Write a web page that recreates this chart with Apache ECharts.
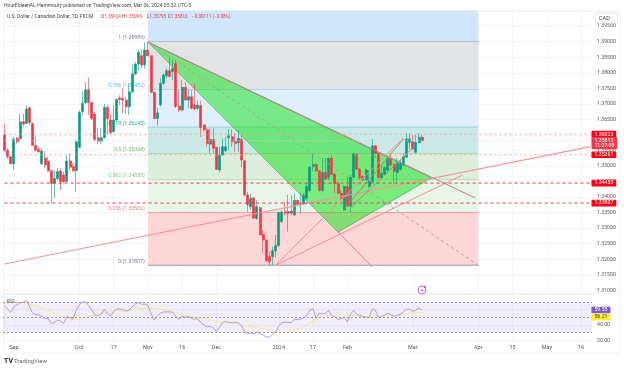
<!DOCTYPE html>
<html><head><meta charset="utf-8">
<script src="https://cdn.jsdelivr.net/npm/echarts@6/dist/echarts.min.js"></script>
<style>html,body{margin:0;padding:0;background:#fff}#c{width:624px;height:368px;filter:blur(.35px)}</style>
</head><body><div id="c"></div>
<script>
// Daily OHLC: [open, close, low, high]
const candles=[
[1.3600,1.3551,1.3546,1.3637],[1.3551,1.3530,1.3522,1.3557],[1.3530,1.3507,1.3507,1.3530],[1.3507,1.3586,1.3487,1.3594],[1.3589,1.3578,1.3572,1.3594],
[1.3588,1.3642,1.3585,1.3667],[1.3642,1.3635,1.3627,1.3669],[1.3637,1.3683,1.3635,1.3694],[1.3687,1.3640,1.3632,1.3691],[1.3637,1.3566,1.3564,1.3637],
[1.3566,1.3551,1.3546,1.3594],[1.3553,1.3546,1.3541,1.3562],[1.3507,1.3548,1.3503,1.3557],[1.3525,1.3503,1.3493,1.3546],[1.3516,1.3484,1.3482,1.3530],
[1.3485,1.3444,1.3380,1.3487],[1.3444,1.3460,1.3396,1.3487],[1.3459,1.3482,1.3455,1.3493],[1.3484,1.3450,1.3423,1.3493],[1.3471,1.3450,1.3444,1.3482],
[1.3450,1.3516,1.3450,1.3535],[1.3516,1.3496,1.3487,1.3541],[1.3498,1.3485,1.3482,1.3509],[1.3485,1.3578,1.3417,1.3583],[1.3560,1.3672,1.3557,1.3680],
[1.3675,1.3702,1.3664,1.3739],[1.3704,1.3745,1.3699,1.3771],[1.3745,1.3704,1.3664,1.3785],[1.3704,1.3653,1.3648,1.3704],[1.3667,1.3585,1.3578,1.3675],
[1.3591,1.3580,1.3570,1.3621],[1.3580,1.3591,1.3570,1.3621],[1.3591,1.3689,1.3589,1.3699],[1.3689,1.3652,1.3600,1.3696],[1.3648,1.3607,1.3600,1.3669],
[1.3611,1.3648,1.3605,1.3696],[1.3648,1.3714,1.3646,1.3718],[1.3719,1.3714,1.3696,1.3728],[1.3718,1.3712,1.3669,1.3750],[1.3712,1.3691,1.3667,1.3723],
[1.3691,1.3739,1.3664,1.3766],[1.3739,1.3796,1.3734,1.3825],[1.3796,1.3828,1.3793,1.3836],[1.3828,1.3866,1.3807,1.3873],[1.3855,1.3825,1.3814,1.3873],
[1.3825,1.3873,1.3814,1.3897],[1.3873,1.3855,1.3852,1.3899],[1.3855,1.3737,1.3734,1.3855],[1.3737,1.3653,1.3651,1.3737],[1.3653,1.3671,1.3629,1.3686],
[1.3697,1.3766,1.3691,1.3782],[1.3766,1.3793,1.3761,1.3798],[1.3790,1.3807,1.3782,1.3814],[1.3807,1.3788,1.3785,1.3852],[1.3804,1.3814,1.3777,1.3841],
[1.3830,1.3691,1.3686,1.3841],[1.3693,1.3680,1.3675,1.3745],[1.3680,1.3753,1.3675,1.3777],[1.3753,1.3712,1.3710,1.3771],[1.3712,1.3723,1.3686,1.3747],
[1.3723,1.3686,1.3682,1.3745],[1.3696,1.3683,1.3680,1.3766],[1.3686,1.3696,1.3680,1.3710],[1.3694,1.3624,1.3594,1.3710],[1.3632,1.3616,1.3611,1.3635],
[1.3616,1.3572,1.3562,1.3621],[1.3570,1.3585,1.3541,1.3621],[1.3585,1.3557,1.3541,1.3624],[1.3560,1.3489,1.3487,1.3562],[1.3487,1.3535,1.3479,1.3562],
[1.3535,1.3562,1.3535,1.3589],[1.3549,1.3562,1.3546,1.3594],[1.3591,1.3597,1.3551,1.3618],[1.3594,1.3578,1.3562,1.3618],[1.3578,1.3572,1.3546,1.3605],
[1.3575,1.3589,1.3546,1.3616],[1.3586,1.3519,1.3496,1.3600],[1.3517,1.3407,1.3403,1.3519],[1.3407,1.3375,1.3353,1.3417],[1.3369,1.3396,1.3359,1.3412],
[1.3398,1.3332,1.3330,1.3398],[1.3332,1.3369,1.3326,1.3391],[1.3366,1.3278,1.3276,1.3369],[1.3280,1.3262,1.3219,1.3294],[1.3262,1.3195,1.3192,1.3262],
[1.3208,1.3192,1.3181,1.3224],[1.3208,1.3227,1.3181,1.3240],[1.3227,1.3244,1.3205,1.3278],[1.3244,1.3350,1.3240,1.3353],[1.3321,1.3351,1.3316,1.3358],
[1.3353,1.3348,1.3342,1.3385],[1.3348,1.3353,1.3289,1.3407],[1.3355,1.3348,1.3342,1.3407],[1.3342,1.3390,1.3340,1.3412],[1.3390,1.3377,1.3375,1.3391],
[1.3375,1.3378,1.3345,1.3412],[1.3377,1.3405,1.3375,1.3412],[1.3396,1.3434,1.3391,1.3444],[1.3421,1.3496,1.3417,1.3498],[1.3498,1.3505,1.3482,1.3539],
[1.3505,1.3484,1.3482,1.3509],[1.3484,1.3421,1.3417,1.3487],[1.3421,1.3479,1.3417,1.3525],[1.3479,1.3458,1.3455,1.3525],[1.3462,1.3525,1.3455,1.3527],
[1.3525,1.3473,1.3471,1.3538],[1.3474,1.3444,1.3412,1.3476],[1.3444,1.3412,1.3407,1.3450],[1.3412,1.3396,1.3391,1.3423],[1.3358,1.3434,1.3355,1.3439],
[1.3434,1.3371,1.3368,1.3466],[1.3371,1.3464,1.3352,1.3471],[1.3464,1.3539,1.3460,1.3541],[1.3539,1.3490,1.3487,1.3541],[1.3490,1.3462,1.3455,1.3493],
[1.3466,1.3455,1.3450,1.3471],[1.3455,1.3487,1.3452,1.3493],[1.3434,1.3450,1.3428,1.3487],[1.3450,1.3565,1.3447,1.3587],[1.3565,1.3541,1.3525,1.3568],
[1.3541,1.3462,1.3460,1.3542],[1.3462,1.3476,1.3460,1.3503],[1.3474,1.3495,1.3471,1.3498],[1.3487,1.3525,1.3482,1.3530],[1.3522,1.3503,1.3498,1.3541],
[1.3505,1.3482,1.3444,1.3509],[1.3479,1.3509,1.3450,1.3525],[1.3489,1.3509,1.3485,1.3519],[1.3503,1.3530,1.3498,1.3541],[1.3528,1.3587,1.3525,1.3605],
[1.3576,1.3587,1.3555,1.3605],[1.3578,1.3555,1.3552,1.3600],[1.3544,1.3576,1.3541,1.3600],[1.3575,1.3592,1.3573,1.3605],[1.35924,1.35813,1.35795,1.35999]
];
const rsiValues=[65.2,60.9,56.5,63.9,66.1,69.2,69.6,72.2,63.9,55.2,53.9,53.1,50.9,48.7,48.7,41.8,43.5,46.5,45.2,42.2,50.9,49.6,47.9,59.2,66.5,69.6,70.5,65.2,59.6,53.1,51.8,53.9,60.5,55.2,51.8,57.4,60.9,60.9,60,58.3,59.6,63.9,67.4,69.6,67,67.4,65.2,55.2,46.5,52.2,55.2,57,57,57,56.5,50.9,47.4,51.3,50,50.9,48.7,47.4,48.3,43.1,40,37.4,38.3,36.5,31.3,37.4,43.5,44.4,43.5,43.1,43.1,43.5,39.2,31.3,27.9,30,28.3,30.9,28.3,27,24.4,24.4,27.9,30.9,39.2,43.1,43.5,43.5,43.1,47.4,47,47.9,49.6,52.6,59.6,60.9,48.7,55.7,54.4,55.2,59.2,52.2,50.5,47.4,48.3,50,44.4,53.9,59.2,53.9,52.6,51.3,50.5,49.6,60.9,59.2,50,51.3,53.1,55.2,53.5,51.3,53.1,53.9,57.4,60.5,60.5,57.9,59.6,61.8,59.55];
const rsiSmooth=[68.3,68.3,68.7,69.2,69.2,69.2,68.7,68.3,67,66.1,65.2,63.9,62.6,60.9,59.2,57.4,55.7,54.4,52.2,50.5,48.7,47.4,47,47.4,48.3,49.6,50.5,51.3,52.2,53.1,53.9,54.8,55.7,57,57.9,58.7,58.7,58.7,58.3,58.3,58.7,59.2,60,60.9,61.3,61.8,61.8,61.8,61.3,60.9,60.5,60,59.6,58.7,57.4,55.7,54.4,53.5,52.2,51.3,50.9,50.5,50.5,50,49.6,48.7,47.4,45.7,44.4,43.1,42.6,42.6,42.6,42.2,41.8,41.3,40.5,39.6,38.7,37.9,37,36.5,36.1,35.2,34.4,33.5,32.2,30.5,30,30.5,30.9,31.3,32.6,33.9,34.8,36.1,37.9,40,42.6,45.2,47.4,50,50.9,51.8,52.6,53.1,53.1,53.1,53.1,53.1,53.1,53.1,52.2,51.8,50.9,50.5,50.5,50.5,50.9,50.9,50.9,51.3,51.3,51.8,52.2,51.8,52.2,53.1,53.5,54.4,54.8,55.2,55.7,56.1,56.21];
// Fibonacci retracement: price levels top-down, the first being the top of its coloured band
const fibBandTop=1.40;
const fibRatios=['1','0.786','0.618','0.5','0.382','0.236','0'];
const fibPrices=[1.38989,1.37452,1.36245,1.35398,1.34550,1.33502,1.31807];
const fibFrom='2023-11-01', fibTo='2024-04-01';
// Triangle pattern vertices and trend lines [date, price]
const triangle=[['2023-11-01',1.38989],['2024-03-11',1.34615],['2024-01-29',1.32877]];
const lineLong=[['2023-08-29',1.31847],['2024-05-21',1.35625]];
const lineUpper=[['2023-11-01',1.38989],['2024-03-29',1.33971]];
const lineCentre=[['2023-11-01',1.38989],['2024-04-01',1.31807]];
const lineDrop=[['2024-01-29',1.32877],['2024-02-13',1.31751]];
const lineFanA=[['2023-12-29',1.31807],['2024-02-27',1.35902]];
const lineFanB=[['2023-12-29',1.31807],['2024-03-25',1.34711]];
const lineChannelA=[['2024-01-31',1.33617],['2024-02-27',1.35869]];
const lineChannelB=[['2024-02-02',1.33649],['2024-03-01',1.35580]];
// Horizontal price levels
const strongLevels=[1.34450,1.33807];
const softLevels=[1.36023,1.35361];
const lastPrice=1.35813, lastClock='11:27:08';
const rsiLast=59.55, rsiSmoothLast=56.21;
const rsiBands=[70,50,30];
// Time axis
const holidays=['2023-12-25','2024-01-01'];
const tickLabels={'2023-09-01':'Sep','2023-10-02':'Oct','2023-10-17':'17','2023-11-01':'Nov','2023-11-16':'16','2023-12-01':'Dec','2024-01-02':'2024','2024-01-17':'17','2024-02-01':'Feb','2024-03-01':'Mar','2024-04-01':'Apr','2024-04-16':'15','2024-05-01':'May','2024-05-16':'16'};
const categories=[];
for(let d=new Date(Date.UTC(2023,7,29));categories.length<189;d=new Date(d.getTime()+864e5)){
  const s=d.toISOString().slice(0,10),w=d.getUTCDay();
  if(w!==0&&w!==6&&!holidays.includes(s))categories.push(s);
}
const first=categories[0], last=categories[categories.length-1];
const headline='HourEldeenAL-Hammoury published on TradingView.com, Mar 06, 2024 05:32 UTC-5';
const legendName='U.S. Dollar / Canadian Dollar, 1D, FXCM';
const legendPairs=[['O','1.35924'],['H','1.35999'],['L','1.35795'],['C','1.35813'],['','\u22120.00111 (\u22120.08%)']];
const legendLeft=[101,122,147,168,192];

const FONT='Roboto, "Liberation Sans", sans-serif';
const LEGEND_FONT='4.6px '+FONT;
const bandColors=['#d0e6fb','#e2e3e4','#e0effc','#c9e9e6','#dcefdc','#e8f5e9','#fdd6d6'];
const lineColors=['#787b86','#64b5f6','#089981','#4caf50','#81c784','#f23645','#787b86'];
const textColors=['#787b86','#64b5f6','#26a69a','#6dbb70','#81c784','#f7727c','#787b86'];
const trend=(data,color,width,type)=>({type:'line',data,xAxisIndex:0,yAxisIndex:0,showSymbol:false,symbol:'none',silent:true,z:5,lineStyle:{color,width:width||1,type:type||'solid'}});
const level=(v,color,type,bg,txt,fg,ax,off)=>({type:'line',data:[[first,v],[last,v]],xAxisIndex:ax||0,yAxisIndex:ax||0,showSymbol:false,symbol:'none',silent:true,z:6,
  lineStyle:color?{color,width:1,type}:{width:0,opacity:0},
  endLabel:{show:true,distance:1,offset:off||[0,0],formatter:txt,color:fg||'#fff',backgroundColor:bg,fontSize:5.2,fontFamily:FONT,padding:[0.75,3,0.75,3],lineHeight:5.2,borderRadius:1}});

const chart=echarts.init(document.getElementById('c'),null,{renderer:'canvas'});
chart.setOption({
 animation:false,backgroundColor:'#fff',
 grid:[{left:3,right:32,top:10.6,height:279.7},{left:3,right:32,top:294.3,height:46.1}],
 xAxis:[
  {type:'category',gridIndex:0,data:categories,axisLine:{show:false},axisTick:{show:false},axisLabel:{show:false},
   splitLine:{show:true,alignWithLabel:true,interval:(i,v)=>v in tickLabels,lineStyle:{color:'#f2f4f8',width:1}}},
  {type:'category',gridIndex:1,data:categories,axisLine:{show:false},axisTick:{show:false},
   axisLabel:{show:true,interval:(i,v)=>v in tickLabels,formatter:v=>tickLabels[v]||'',color:'#555',fontSize:5.5,fontFamily:FONT,margin:4,hideOverlap:false},
   splitLine:{show:true,alignWithLabel:true,interval:(i,v)=>v in tickLabels,lineStyle:{color:'#f2f4f8',width:1}}}
 ],
 yAxis:[
  {type:'value',gridIndex:0,position:'right',min:1.31,max:1.40,interval:0.005,axisLine:{show:false},axisTick:{show:false},
   axisLabel:{showMaxLabel:false,formatter:v=>v.toFixed(5),color:'#555',fontSize:5.2,fontFamily:FONT,margin:5},
   splitLine:{lineStyle:{color:'#f2f4f8',width:1}}},
  {type:'value',gridIndex:1,position:'right',min:20,max:80,interval:20,axisLine:{show:false},axisTick:{show:false},
   axisLabel:{formatter:v=>(v===20||v===40)?v.toFixed(2):'',color:'#555',fontSize:5.2,fontFamily:FONT,margin:5},
   splitLine:{lineStyle:{color:'#f2f4f8',width:1}}}
 ],
 series:[
  {type:'custom',name:'fib',z:1,silent:true,coordinateSystem:'cartesian2d',xAxisIndex:0,yAxisIndex:0,clip:false,
   data:fibPrices.map((p,k)=>[k,p]),encode:{x:-1,y:1},
   renderItem:(params,api)=>{
     const k=params.dataIndex,hi=k?fibPrices[k-1]:fibBandTop,lo=fibPrices[k];
     const a=api.coord([fibFrom,hi]),b=api.coord([fibTo,lo]);
     const a0=api.coord([fibFrom,lo]);
     return {type:'group',children:[
       {type:'rect',shape:{x:a[0],y:a[1],width:b[0]-a[0],height:b[1]-a[1]},style:{fill:bandColors[k]}},
       {type:'line',shape:{x1:a0[0],y1:a0[1],x2:b[0],y2:b[1]},style:{stroke:lineColors[k],lineWidth:1,opacity:.75}},
       {type:'text',style:{text:fibRatios[k]+' ('+lo.toFixed(5)+')',x:a0[0]-3,y:a0[1]-1.5,align:'right',verticalAlign:'bottom',fill:textColors[k],font:'5.2px '+FONT}}
     ]};
   }},
  {type:'custom',name:'triangle',z:2,silent:true,coordinateSystem:'cartesian2d',xAxisIndex:0,yAxisIndex:0,
   data:triangle,encode:{x:0,y:1},
   renderItem:(params,api)=>{
     if(params.dataIndex)return null;
     return {type:'polygon',shape:{points:triangle.map(p=>api.coord(p))},style:{fill:'rgba(15,225,20,0.5)',stroke:'rgba(40,160,70,.6)',lineWidth:1}};
   }},
  {type:'candlestick',name:'USDCAD',xAxisIndex:0,yAxisIndex:0,data:candles,barWidth:2.5,z:3,silent:true,
   itemStyle:{color:'#089981',color0:'#f23645',borderColor:'rgba(8,153,129,.6)',borderColor0:'rgba(242,54,69,.6)',borderColorDoji:'rgba(242,54,69,.6)',borderWidth:1}},
  trend(lineLong,'#f5959d',1.2),
  trend(lineUpper,'#c47c92',1),
  trend(lineCentre,'#9a9ca5',.8,[3,3]),
  trend(lineDrop,'#ef7f8a',1),
  trend(lineFanA,'#ef8f98',1),
  trend(lineFanB,'#ef8f98',1),
  trend(lineChannelA,'#b98570',1),
  trend(lineChannelB,'#b98570',1),
  level(lastPrice,'#fbc4c9',[1,2],'#f23a4c',lastPrice.toFixed(5)+'\n'+lastClock,'#fff',0,[0,2.6]),
  ...strongLevels.map(v=>level(v,'#f23645',[3,3],'#ff0015',v.toFixed(5))),
  ...softLevels.map(v=>level(v,'#f9a0a8',[2,3],'#ff0015',v.toFixed(5))),
  {type:'line',name:'RSI',xAxisIndex:1,yAxisIndex:1,data:rsiValues,showSymbol:false,symbol:'none',z:4,silent:true,
   lineStyle:{color:'#b39ddb',width:1},
   markArea:{silent:true,itemStyle:{color:'rgba(126,87,194,0.10)'},data:[[{yAxis:70},{yAxis:30}]]},
   markLine:{symbol:'none',silent:true,lineStyle:{color:'#9a9aa5',width:1,type:[2,2]},label:{show:false},data:rsiBands.map(v=>({yAxis:v}))}},
  {type:'line',name:'RSI MA',xAxisIndex:1,yAxisIndex:1,data:rsiSmooth,showSymbol:false,symbol:'none',z:3,silent:true,
   lineStyle:{color:'#f6e98e',width:1}},
  level(rsiLast,null,null,'#7e57c2',rsiLast.toFixed(2),'#fff',1,[0,0]),
  level(rsiSmoothLast,null,null,'#ffeb3b',rsiSmoothLast.toFixed(2),'#333',1,[0,4.6])
 ],
 graphic:[
  {type:'rect',silent:true,z:0,shape:{x:4,y:11,width:616,height:342},style:{fill:'none',stroke:'#f0f2f6',lineWidth:1}},
  {type:'line',silent:true,z:0,shape:{x1:4,y1:293.5,x2:620,y2:293.5},style:{stroke:'#eceff4',lineWidth:1}},
  {type:'text',z:20,style:{text:headline,x:4,y:3,fill:'#444',font:'5px '+FONT}},
  {type:'text',z:20,style:{text:legendName,x:7,y:14.5,fill:'#444',font:'5px '+FONT}},
  ...legendPairs.map(([a,b],k)=>({type:'text',z:20,style:{x:legendLeft[k],y:14.5,text:(a?'{d|'+a+'}':'')+'{r|'+b+'}',font:LEGEND_FONT,
    rich:{d:{fill:'#444',font:LEGEND_FONT},r:{fill:'#f23645',font:LEGEND_FONT}}}})),
  {type:'rect',z:20,shape:{x:595.5,y:13,width:22,height:10,r:2},style:{fill:'#fff',stroke:'#e6e8ee',lineWidth:1}},
  {type:'text',z:21,style:{text:'CAD',x:599,y:15.3,fill:'#444',font:'5.5px '+FONT}},
  {type:'text',z:20,style:{text:'RSI',x:7,y:299,fill:'#555',font:'5.25px '+FONT}},
  {type:'circle',z:20,shape:{cx:422,cy:290,r:4},style:{fill:'#fff',stroke:'#ba68c8',lineWidth:1}},
  {type:'circle',z:21,shape:{cx:422,cy:290.4,r:1},style:{fill:'#ab47bc'}},
  {type:'circle',z:21,shape:{cx:425,cy:287,r:1},style:{fill:'#f23645'}},
  {type:'text',z:20,style:{text:'TV',x:4,y:357.5,fill:'#222',font:'bold 7px '+FONT}},
  {type:'text',z:20,style:{text:'TradingView',x:14,y:358,fill:'#666',font:'6px '+FONT}}
 ]
});
</script></body></html>
